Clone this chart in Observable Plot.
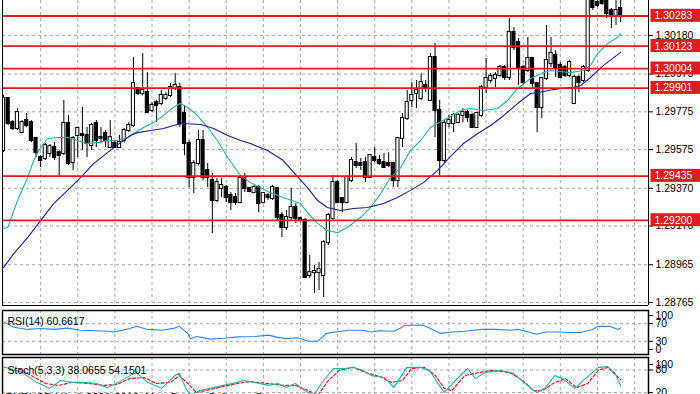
<!DOCTYPE html>
<html><head><meta charset="utf-8">
<script src="https://cdn.jsdelivr.net/npm/d3@7"></script>
<script src="https://cdn.jsdelivr.net/npm/@observablehq/plot@0.6"></script>
<style>
html,body{margin:0;padding:0;background:#fff;overflow:hidden;width:700px;height:394px}
#chart{position:relative;width:700px;height:394px;overflow:hidden;background:#fff}
#chart > svg{position:absolute;left:0}
</style></head><body><div id="chart"></div>
<script>
// ---- price candles (bar index = position in arrays) ----
const opens = [1.29570,1.29846,1.29718,1.29687,1.29665,1.29729,1.29718,1.29634,1.29533,1.29528,1.29554,1.29586,1.29559,1.29554,1.29713,1.29506,1.29650,1.29655,1.29650,1.29597,1.29713,1.29639,1.29660,1.29586,1.29607,1.29586,1.29623,1.29676,1.29703,1.29899,1.29872,1.29877,1.29782,1.29824,1.29819,1.29846,1.29862,1.29899,1.29904,1.29766,1.29607,1.29427,1.29501,1.29623,1.29464,1.29411,1.29305,1.29369,1.29374,1.29332,1.29321,1.29294,1.29422,1.29369,1.29347,1.29374,1.29294,1.29332,1.29316,1.29369,1.29226,1.29162,1.29215,1.29268,1.29210,1.29199,1.28908,1.28923,1.28923,1.28908,1.29082,1.29210,1.29400,1.29316,1.29294,1.29411,1.29506,1.29501,1.29506,1.29427,1.29533,1.29517,1.29506,1.29501,1.29501,1.29411,1.29634,1.29740,1.29835,1.29872,1.29846,1.29915,1.29835,1.30063,1.29782,1.29517,1.29713,1.29713,1.29718,1.29756,1.29771,1.29756,1.29692,1.29756,1.29904,1.29941,1.29952,1.29968,1.30010,1.29957,1.30195,1.30142,1.30010,1.29994,1.30058,1.29925,1.29798,1.29952,1.30031,1.30074,1.30021,1.30010,1.29968,1.29819,1.29957,1.29941,1.29994,1.30365,1.30354,1.30365,1.30365,1.30312,1.30286,1.30323];
const highs = [1.29862,1.29851,1.29729,1.29793,1.29729,1.29766,1.29729,1.29639,1.29544,1.29607,1.29602,1.29612,1.29570,1.29835,1.29756,1.29644,1.29692,1.29798,1.29692,1.29713,1.29729,1.29692,1.29676,1.29729,1.29623,1.29650,1.29687,1.29718,1.30063,1.29904,1.30084,1.29983,1.29824,1.29835,1.29888,1.29877,1.29925,1.29978,1.29925,1.29809,1.29623,1.29517,1.29676,1.29676,1.29501,1.29448,1.29422,1.29422,1.29385,1.29347,1.29342,1.29427,1.29448,1.29374,1.29385,1.29385,1.29347,1.29342,1.29385,1.29374,1.29241,1.29252,1.29369,1.29289,1.29215,1.29210,1.29014,1.28961,1.28976,1.29093,1.29236,1.29438,1.29411,1.29321,1.29427,1.29533,1.29607,1.29528,1.29533,1.29544,1.29586,1.29544,1.29554,1.29559,1.29501,1.29639,1.29766,1.29888,1.29930,1.29941,1.29978,1.29941,1.30084,1.30137,1.29835,1.29729,1.29756,1.29766,1.29766,1.29793,1.29782,1.29766,1.29771,1.29915,1.30058,1.29978,1.29983,1.30021,1.30021,1.30270,1.30222,1.30164,1.30021,1.30169,1.30063,1.29930,1.29957,1.30233,1.30169,1.30100,1.30036,1.30021,1.30047,1.29968,1.29968,1.30021,1.30418,1.30392,1.30365,1.30381,1.30376,1.30323,1.30365,1.30365];
const lows = [1.29559,1.29703,1.29676,1.29676,1.29660,1.29692,1.29612,1.29533,1.29480,1.29517,1.29533,1.29517,1.29427,1.29544,1.29491,1.29464,1.29533,1.29570,1.29533,1.29570,1.29586,1.29607,1.29586,1.29586,1.29581,1.29586,1.29612,1.29665,1.29692,1.29862,1.29862,1.29766,1.29771,1.29718,1.29809,1.29835,1.29851,1.29888,1.29692,1.29544,1.29374,1.29342,1.29491,1.29411,1.29374,1.29130,1.29294,1.29321,1.29294,1.29252,1.29279,1.29289,1.29347,1.29347,1.29342,1.29241,1.29289,1.29305,1.29305,1.29199,1.29109,1.29146,1.29199,1.29183,1.29188,1.28892,1.28892,1.28812,1.28828,1.28791,1.29067,1.29199,1.29289,1.29241,1.29289,1.29400,1.29475,1.29464,1.29400,1.29427,1.29506,1.29491,1.29480,1.29480,1.29374,1.29374,1.29586,1.29729,1.29798,1.29793,1.29835,1.29877,1.29835,1.29639,1.29438,1.29501,1.29692,1.29665,1.29713,1.29718,1.29718,1.29687,1.29687,1.29745,1.29872,1.29925,1.29904,1.29957,1.29941,1.29941,1.30100,1.29915,1.29915,1.29983,1.29899,1.29665,1.29740,1.29941,1.30010,1.29957,1.29952,1.29957,1.29957,1.29819,1.29877,1.29930,1.29983,1.30312,1.30328,1.30339,1.30270,1.30217,1.30233,1.30248];
const closes = [1.29846,1.29713,1.29687,1.29771,1.29718,1.29703,1.29623,1.29559,1.29517,1.29597,1.29591,1.29533,1.29544,1.29713,1.29501,1.29634,1.29687,1.29650,1.29607,1.29703,1.29623,1.29634,1.29623,1.29639,1.29586,1.29612,1.29676,1.29703,1.29925,1.29872,1.29888,1.29771,1.29809,1.29809,1.29862,1.29862,1.29904,1.29915,1.29713,1.29607,1.29427,1.29501,1.29623,1.29427,1.29427,1.29305,1.29400,1.29385,1.29321,1.29294,1.29294,1.29422,1.29369,1.29353,1.29374,1.29289,1.29342,1.29321,1.29374,1.29215,1.29162,1.29215,1.29268,1.29210,1.29199,1.28897,1.28923,1.28929,1.28939,1.29082,1.29226,1.29400,1.29294,1.29294,1.29427,1.29517,1.29491,1.29491,1.29427,1.29544,1.29517,1.29501,1.29480,1.29491,1.29411,1.29634,1.29740,1.29824,1.29862,1.29888,1.29930,1.29899,1.30063,1.29782,1.29517,1.29713,1.29729,1.29756,1.29756,1.29771,1.29745,1.29692,1.29766,1.29904,1.29952,1.29962,1.29968,1.30010,1.29957,1.30195,1.30116,1.30005,1.29930,1.30058,1.29925,1.29798,1.29952,1.30047,1.30084,1.30010,1.29957,1.29968,1.30036,1.29957,1.29930,1.30010,1.30392,1.30328,1.30339,1.30349,1.30296,1.30286,1.30312,1.30286];

// ---- moving averages (bar index, price) ----
const maFastIdx = [0,0.9,3.0,5.2,6.5,8.0,9.5,11.6,13.8,15.9,18.1,20.3,22.4,24.6,26.7,28.0,30.2,32.3,34.5,36.6,38.1,39.7,41.8,44.0,46.1,48.3,51.1,53.2,57.5,60.3,64.0,65.7,67.7,69.8,72.0,74.1,76.9,79.1,81.3,83.4,85.6,87.7,89.9,92.0,93.5,96.3,98.5,100.6,103.4,106.5,108.6,110.8,113.6,116.4,117.9,122.2,125.0,126.5,128.0,130.2,132.3,133.0];
const maFastVal = [1.29157,1.29162,1.29305,1.29427,1.29517,1.29586,1.29634,1.29639,1.29639,1.29623,1.29607,1.29612,1.29623,1.29623,1.29639,1.29660,1.29692,1.29718,1.29756,1.29798,1.29819,1.29798,1.29756,1.29692,1.29623,1.29533,1.29438,1.29400,1.29347,1.29321,1.29289,1.29236,1.29183,1.29146,1.29135,1.29162,1.29215,1.29268,1.29342,1.29427,1.29480,1.29570,1.29623,1.29692,1.29713,1.29750,1.29782,1.29793,1.29782,1.29793,1.29835,1.29899,1.29952,1.29983,1.29994,1.29983,1.29994,1.30021,1.30084,1.30137,1.30169,1.30190];
const maSlowIdx = [0,2.2,5.2,8.0,10.8,13.8,16.6,19.4,22.4,25.2,27.4,28.9,31.7,34.5,36.6,38.6,42.5,45.3,48.3,51.1,53.2,56.9,60.3,63.4,65.5,67.7,69.8,72.6,75.4,78.4,81.9,84.9,87.7,90.5,93.5,96.3,99.1,102.2,105.0,107.8,110.8,113.6,116.4,118.5,120.0,122.8,124.4,126.5,129.3,133.0];
const maSlowVal = [1.28950,1.29024,1.29109,1.29199,1.29289,1.29359,1.29427,1.29501,1.29559,1.29612,1.29650,1.29665,1.29676,1.29687,1.29703,1.29713,1.29708,1.29687,1.29650,1.29623,1.29607,1.29570,1.29517,1.29430,1.29374,1.29305,1.29268,1.29252,1.29263,1.29268,1.29289,1.29321,1.29359,1.29400,1.29464,1.29538,1.29607,1.29660,1.29703,1.29756,1.29819,1.29872,1.29883,1.29893,1.29899,1.29904,1.29915,1.29957,1.30021,1.30090];

// ---- RSI(14) ----
const rsiIdx = [0.2,2.2,5.2,8.0,11.0,13.8,16.6,19.6,22.4,23.9,27.2,28.7,31.0,34.1,36.9,37.9,39.7,40.3,41.6,44.6,47.4,50.4,54.1,57.1,59.1,61.0,63.4,65.7,67.7,69.6,71.6,74.4,77.4,79.3,81.0,84.1,85.6,86.4,90.3,91.8,94.2,96.6,99.4,103.2,106.3,109.1,111.0,112.5,114.9,116.8,119.6,122.4,124.4,126.9,128.2,130.6,132.5,133.0];
const rsiVal = [73,62,57,59,57,60,55,54,53,51,59,64,57,55,60,64,48,36,41,35,37,40,41,44,39,36,38,30,30,48,51,55,55,51,54,53,60,66,67,60,48,51,53,57,57,55,57,53,46,51,51,50,50,57,64,64,57,60.66];

// ---- Stochastic(5,3,3) ----
const stochKIdx = [0,1.3,4.1,7.1,9.9,12.3,14.7,17.7,20.0,22.4,24.8,27.2,28.7,31.0,34.1,36.9,37.9,39.2,40.3,42.2,44.6,47.4,50.4,51.7,54.1,57.1,59.1,61.0,62.9,64.9,66.8,68.5,71.1,73.5,75.4,77.4,79.3,82.1,84.1,86.9,89.9,91.8,93.5,95.0,97.4,100.0,101.7,103.7,107.1,109.9,112.9,114.9,116.8,118.8,120.5,123.1,125.4,128.2,130.2,131.7,133.0];
const stochKVal = [88,84,73,47,31,52,47,47,44,33,47,65,73,47,31,65,71,33,12,25,31,39,47,52,47,39,44,33,44,25,12,44,84,84,87,79,65,60,33,87,87,79,47,20,52,84,57,73,79,71,39,20,33,65,57,31,57,87,89,73,38.07];
const stochDIdx = [3.2,6.0,9.1,11.9,14.7,18.5,21.6,24.4,27.2,30.2,33.0,36.0,37.9,39.7,41.6,44.6,47.4,50.4,53.2,57.1,59.9,62.9,65.7,67.7,70.0,72.4,75.4,78.2,81.0,83.6,86.0,87.9,90.7,93.1,95.0,96.6,99.4,102.4,105.2,109.1,111.9,114.2,116.2,118.8,121.1,123.5,125.9,128.2,130.2,132.1,133.0];
const stochDVal = [84,65,44,39,47,44,39,41,57,60,44,47,65,44,20,28,36,44,49,44,39,39,25,12,52,79,87,73,63,47,52,84,87,65,31,25,65,73,79,73,52,25,25,47,57,33,44,79,87,65,54.15];

// ---- axes, levels, labels ----
const yTicks = [1.30180,1.29975,1.29775,1.29575,1.29370,1.29170,1.28965,1.28765];
const levels = [1.30283,1.30123,1.30004,1.29901,1.29435,1.29200];
const gridBars = [8,16,24,32,40,48,56,64,72,80,88,96,104,112,120,128,136];
const rsiTicks = [70,30];
const rsiTop = [100], rsiBottom = [0];
const rsiLevels = [70,30];
const stochTicks = [80,20,0];
const stochTop = [100];
const stochLevels = [80,20];
const rsiLabel = "RSI(14) 60.6617";
const stochLabel = "Stoch(5,3,3) 38.0655 54.1501";
const footer = "EURUSD,H1  \u00A9 2001-2012, MetaQuotes Software Corp.";

const xDomain = [-0.22, 139.0];
const priceDomain = [1.28749, 1.30365];
const rsiDomain = [0, 100];
const stochDomain = [-6.7, 113.3];

const GRID = "#a6a6a6", RED = "#e11b1e", TEAL = "#20b2aa", BLUE = "#1c1c9c", RSIC = "#2a8ae8";
const font = {fontFamily: "'Liberation Sans', Arial, sans-serif", fontSize: "10.5px", color: "#000", background: "transparent", overflow: "visible"};

const bars = opens.map((o, i) => ({i, o, h: highs[i], l: lows[i], c: closes[i]}));
const upBars = bars.filter(d => d.c > d.o);
const downBars = bars.filter(d => d.c <= d.o);
const fast = maFastIdx.map((i, k) => ({i, v: maFastVal[k]}));
const slow = maSlowIdx.map((i, k) => ({i, v: maSlowVal[k]}));
const rsi = rsiIdx.map((i, k) => ({i, v: rsiVal[k]}));
const sk = stochKIdx.map((i, k) => ({i, v: stochKVal[k]}));
const sd = stochDIdx.map((i, k) => ({i, v: stochDVal[k]}));
const levelText = levels.map(d => d.toFixed(5));

const dash = {stroke: GRID, strokeDasharray: "3,3"};
const bodyOpts = {x1: d => d.i - 0.34, x2: d => d.i + 0.34, y1: "o", y2: "c", stroke: "#000", strokeWidth: 1, insetTop: -0.5, insetBottom: -0.5, clip: true};

const main = Plot.plot({
  width: 700, height: 307, marginLeft: 2, marginRight: 52, marginTop: 0, marginBottom: 2,
  style: font,
  x: {domain: xDomain, axis: null},
  y: {domain: priceDomain, axis: null},
  marks: [
    Plot.ruleY(yTicks, dash),
    Plot.ruleX(gridBars, dash),
    Plot.ruleX(bars, {x: "i", y1: "l", y2: "h", stroke: "#000", clip: true}),
    Plot.rect(upBars, {...bodyOpts, fill: "#fff"}),
    Plot.rect(downBars, {...bodyOpts, fill: "#000"}),
    Plot.line(fast, {x: "i", y: "v", stroke: TEAL, strokeWidth: 1.1, clip: true}),
    Plot.line(slow, {x: "i", y: "v", stroke: BLUE, strokeWidth: 1.1, clip: true}),
    Plot.ruleY(levels, {stroke: RED, strokeWidth: 1.8}),
    Plot.ruleX(xDomain, {stroke: "#000"}),
    Plot.ruleY([priceDomain[0]], {stroke: "#000"}),
    Plot.axisY(yTicks, {anchor: "right", tickSize: 4, tickPadding: 3, tickFormat: d => d.toFixed(5), label: null}),
    Plot.text(levels, {y: d => d, text: d => d.toFixed(5), frameAnchor: "right", textAnchor: "start", dx: 6, fill: "#fff"})
  ]
});

const rsiPlot = Plot.plot({
  width: 700, height: 49, marginLeft: 2, marginRight: 52, marginTop: 3, marginBottom: 2,
  style: font,
  x: {domain: xDomain, axis: null},
  y: {domain: rsiDomain, axis: null},
  marks: [
    Plot.ruleY(rsiLevels, dash),
    Plot.ruleX(gridBars, dash),
    Plot.line(rsi, {x: "i", y: "v", stroke: RSIC, strokeWidth: 1.1, clip: true}),
    Plot.frame({stroke: "#000", strokeWidth: 1.5}),
    Plot.axisY(rsiTicks, {anchor: "right", tickSize: 4, tickPadding: 3, label: null}),
    Plot.axisY(rsiTop, {anchor: "right", tickSize: 4, tickPadding: 3, dy: 5, label: null}),
    Plot.axisY(rsiBottom, {anchor: "right", tickSize: 4, tickPadding: 3, dy: -5, label: null}),
    Plot.text([rsiLabel], {frameAnchor: "top-left", textAnchor: "start", lineAnchor: "middle", dx: 5, dy: 11, fill: "#000"})
  ]
});

const stochPlot = Plot.plot({
  width: 700, height: 47, marginLeft: 2, marginRight: 52, marginTop: 2, marginBottom: 0,
  style: font,
  x: {domain: xDomain, axis: null},
  y: {domain: stochDomain, axis: null},
  marks: [
    Plot.ruleY(stochLevels, dash),
    Plot.ruleX(gridBars, dash),
    Plot.line(sd, {x: "i", y: "v", stroke: "#ff0000", strokeWidth: 1.1, strokeDasharray: "3,2", clip: true}),
    Plot.line(sk, {x: "i", y: "v", stroke: TEAL, strokeWidth: 1.1, clip: true}),
    Plot.frame({stroke: "#000", strokeWidth: 1.5}),
    Plot.axisY(stochTicks, {anchor: "right", tickSize: 4, tickPadding: 3, label: null}),
    Plot.axisY(stochTop, {anchor: "right", tickSize: 4, tickPadding: 3, dy: 2, label: null}),
    Plot.text([stochLabel], {frameAnchor: "top-left", textAnchor: "start", lineAnchor: "middle", dx: 5, dy: 13, fill: "#000"}),
    Plot.text([footer], {frameAnchor: "bottom-left", textAnchor: "start", lineAnchor: "middle", dx: 3, dy: -5, fill: "#000", fontSize: 11})
  ]
});

const host = document.getElementById("chart");
[[main, 0], [rsiPlot, 307], [stochPlot, 355]].forEach(([svg, top]) => {
  svg.style.position = "absolute";
  svg.style.top = top + "px";
  svg.style.left = "0px";
  host.appendChild(svg);
});

// red boxes behind the level price labels (found by their text)
Array.from(main.querySelectorAll("text"))
  .filter(t => levelText.includes(t.textContent.trim()))
  .forEach(t => {
    const b = t.getBBox();
    const r = document.createElementNS("http://www.w3.org/2000/svg", "rect");
    r.setAttribute("x", b.x - 4);
    r.setAttribute("y", b.y - 0.5);
    r.setAttribute("width", b.width + 12);
    r.setAttribute("height", b.height + 1);
    r.setAttribute("fill", RED);
    r.setAttribute("stroke", "none");
    const tr = t.getAttribute("transform");
    if (tr) r.setAttribute("transform", tr);
    t.parentNode.insertBefore(r, t);
  });
</script>
</body></html>
